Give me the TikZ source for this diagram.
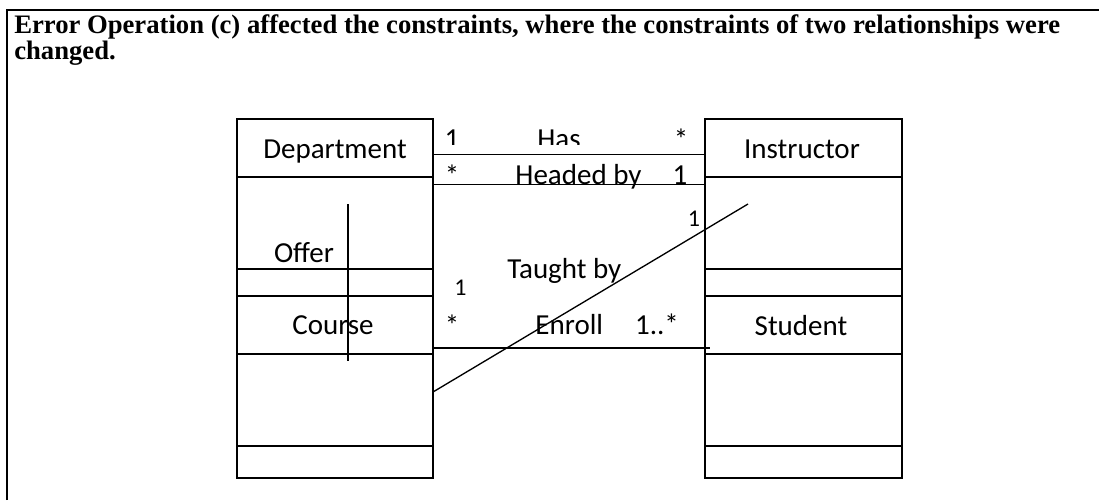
\documentclass[tikz,border=0pt]{standalone}
\usepackage{fontspec}
\setmainfont{Liberation Serif}
\newfontfamily\calib{Carlito}
\begin{document}
\begin{tikzpicture}[x=0.75pt,y=-0.75pt,
  cell/.style={draw, line width=1pt, rectangle, inner sep=0pt, outer sep=0pt, anchor=north west},
  lcol/.style={cell, minimum width=147pt},
  rcol/.style={cell, minimum width=147.75pt},
  lbl/.style={font=\calib\fontsize{21.75}{26}\selectfont, anchor=base, inner sep=0pt},
  lblsm/.style={font=\calib\fontsize{18}{22}\selectfont, anchor=base, inner sep=0pt},
  ttl/.style={font=\bfseries\fontsize{20}{20}\selectfont, anchor=base west, inner sep=0pt},
  assoc/.style={line width=1pt},
  frame/.style={line width=1.5pt}]
\useasboundingbox (0,0) rectangle (1099,500);
\fill[white] (0,0) rectangle (1099,500);
% frame
\draw[frame] (7,500) -- (7,10) -- (1099,10);
% title
\node[ttl] (t1) at (14,33.5) {Error Operation (c) affected the constraints, where the constraints of two relationships were};
\node[ttl] (t2) at (14,59.5) {changed.};
% left column
\node[lcol, minimum height=43.5pt] (deptH) at (237,119) {};
\node[lcol, minimum height=69pt] (deptA) at (237,177) {};
\node[lcol, minimum height=20.25pt] (deptM) at (237,269) {};
\node[lcol, minimum height=43.5pt] (courseH) at (237,296) {};
\node[lcol, minimum height=69pt] (courseA) at (237,354) {};
\node[lcol, minimum height=24pt] (courseM) at (237,446) {};
% right column
\node[rcol, minimum height=43.5pt] (instH) at (705,119) {};
\node[rcol, minimum height=69pt] (instA) at (705,177) {};
\node[rcol, minimum height=20.25pt] (instM) at (705,269) {};
\node[rcol, minimum height=43.5pt] (studH) at (705,296) {};
\node[rcol, minimum height=69pt] (studA) at (705,354) {};
\node[rcol, minimum height=24pt] (studM) at (705,446) {};
% class names
\node[lbl] (tDept) at (335,158.3) {Department};
\node[lbl] (tInst) at (802,158.3) {Instructor};
\node[lbl] (tOffer) at (304,262.7) {Offer};
\node[lbl] (tCourse) at (333,334) {Course};
\node[lbl] (tStud) at (801,335) {Student};
% association lines
\coordinate (hasL) at (433,154.5);
\coordinate (hasR) at (705,154.5);
\coordinate (hdL) at (433,184.5);
\coordinate (hdR) at (705,184.5);
\coordinate (enL) at (433,348);
\coordinate (enR) at (710,348);
\coordinate (diagA) at (433,392);
\coordinate (diagB) at (748,204);
\coordinate (offA) at (348,204);
\coordinate (offB) at (348,361);
\draw[assoc] (hasL) -- (hasR);
\draw[assoc] (hdL) -- (hdR);
\draw[assoc] (enL) -- (enR);
\draw[assoc] (diagA) -- (diagB);
\draw[assoc] (offA) -- (offB);
% Has row (clipped at bottom)
\begin{scope}
\clip (440,100) rectangle (620,144.3);
\node[lbl] (mHas1) at (452,148.7) {1};
\node[lbl] (tHas) at (559,148.7) {Has};
\end{scope}
\node[lbl] (mHas2) at (681,149.5) {*};
% Headed by row
\node[lbl] (mHd1) at (452,185) {*};
\node[lbl] (tHd) at (578.5,184) {Headed by};
\node[lbl] (mHd2) at (680,184) {1};
% Taught by
\node[lblsm] (mTb1) at (694,226.5) {1};
\node[lbl] (tTb) at (564.3,278) {Taught by};
\node[lblsm] (mTb2) at (460.5,295) {1};
% Enroll row
\node[lbl] (mEn1) at (452,335) {*};
\node[lbl] (tEn) at (569.3,334) {Enroll};
\node[lbl] (mEn2) at (657,334) {1..*};
\end{tikzpicture}
\end{document}
